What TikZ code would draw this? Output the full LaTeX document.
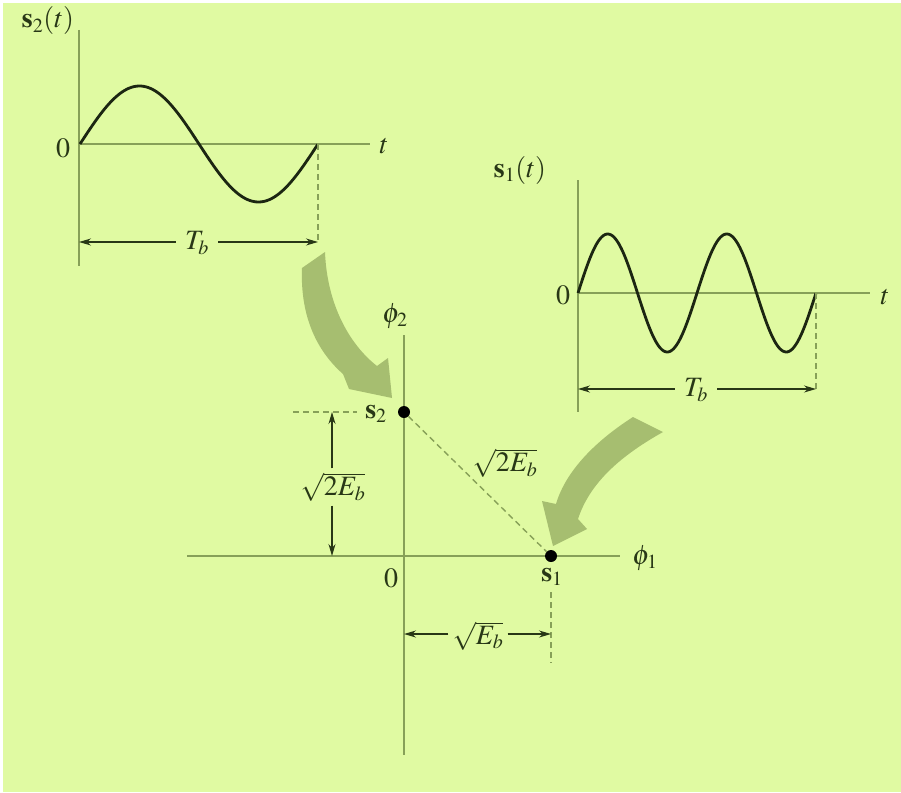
\documentclass[tikz,border=0pt]{standalone}
\usepackage{mathptmx}
\usetikzlibrary{arrows.meta}
\definecolor{bgc}{RGB}{224,250,162}
\definecolor{axc}{RGB}{135,160,88}
\definecolor{txc}{RGB}{40,55,22}
\definecolor{crv}{RGB}{28,38,18}
\definecolor{bigc}{RGB}{166,190,112}
\DeclareMathSizes{28}{28}{20}{15}
\begin{document}
\begin{tikzpicture}[x=1pt,y=-1pt,
  axis/.style={draw=axc,line width=1.6pt},
  dsh/.style={draw=axc,line width=1.4pt,dash pattern=on 6pt off 4pt},
  wave/.style={draw=crv,line width=2.8pt},
  dim/.style={draw=txc,line width=1.2pt,-{Stealth[length=12pt,width=7pt]}},
  lbl/.style={text=txc,inner sep=1pt,font=\fontsize{28}{32}\selectfont},
  bigarrow/.style={fill=bigc,draw=none},
  dot/.style={circle,fill=black,inner sep=0pt,minimum size=12pt}]
\useasboundingbox (0,0) rectangle (901,792);
\fill[white] (0,0) rectangle (901,792);
\fill[bgc] (3,3) rectangle (901,792);

% ---------- top-left waveform s2(t)
\coordinate (a2o) at (79,144);
\coordinate (a2top) at (79,30);
\coordinate (a2bot) at (79,266);
\coordinate (a2right) at (370,144);
\coordinate (a2end) at (318,144);
\coordinate (a2dimL) at (79,242);
\coordinate (a2dimR) at (318,242);
\draw[axis] (a2top) -- (a2bot);
\draw[axis] (a2o) -- (a2right);
\draw[wave] plot[domain=0:1,samples=120] ({80+238*\x},{144-58*sin(360*\x)});
\draw[dsh] (a2end) -- (a2dimR);
\node[lbl] (s2t) at (48,21) {$\mathbf{s}_2(t)$};
\node[lbl] (z2) at (63,148) {$0$};
\node[lbl] (t2) at (384,146) {$t$};
\node[lbl,fill=bgc,inner xsep=9pt] (Tb2) at (197,243) {$T_b$};
\draw[dim] (Tb2.west |- a2dimL) -- (a2dimL);
\draw[dim] (Tb2.east |- a2dimR) -- (a2dimR);

% ---------- right waveform s1(t)
\coordinate (a1o) at (578,293);
\coordinate (a1top) at (578,180);
\coordinate (a1bot) at (578,412);
\coordinate (a1right) at (870,293);
\coordinate (a1end) at (816,293);
\coordinate (a1dimL) at (578,389);
\coordinate (a1dimR) at (816,389);
\draw[axis] (a1top) -- (a1bot);
\draw[axis] (a1o) -- (a1right);
\draw[wave] plot[domain=0:1,samples=160] ({578+238*\x},{293-59*sin(720*\x)});
\draw[dsh] (a1end) -- (a1dimR);
\node[lbl] (s1t) at (520,170) {$\mathbf{s}_1(t)$};
\node[lbl] (z1) at (563,295) {$0$};
\node[lbl] (t1) at (885,297) {$t$};
\node[lbl,fill=bgc,inner xsep=9pt] (Tb1) at (696,390) {$T_b$};
\draw[dim] (Tb1.west |- a1dimL) -- (a1dimL);
\draw[dim] (Tb1.east |- a1dimR) -- (a1dimR);

% ---------- big curved arrows
\path[bigarrow] (302,268) .. controls (300,318) and (318,352) .. (343,374)
  -- (349,389) -- (392,398) -- (388,358) -- (377,366)
  .. controls (350,345) and (327,305) .. (325,252) -- cycle;
\path[bigarrow] (633,417) .. controls (597,440) and (566,470) .. (556,504)
  -- (542,501) -- (553,546) -- (587,529) -- (578,519)
  .. controls (590,482) and (622,455) .. (663,432) -- cycle;

% ---------- signal space
\coordinate (O) at (404,556);
\coordinate (p2top) at (404,335);
\coordinate (p2bot) at (404,755);
\coordinate (p1left) at (187,556);
\coordinate (p1right) at (620,556);
\draw[axis] (p2top) -- (p2bot);
\draw[axis] (p1left) -- (p1right);
\node[dot] (s2) at (404,412) {};
\node[dot] (s1) at (551,556) {};
\draw[dsh] (s2) -- (s1);
\coordinate (hd1) at (293,412);
\coordinate (hd2) at (357,412);
\draw[dsh] (hd1) -- (hd2);
\coordinate (vd1) at (551,592);
\coordinate (vd2) at (551,663);
\draw[dsh] (vd1) -- (vd2);

\node[lbl] (phi2) at (395,316) {$\phi_2$};
\node[lbl] (phi1) at (645,558) {$\phi_1$};
\node[lbl] (s2l) at (376,414) {$\mathbf{s}_2$};
\node[lbl] (s1l) at (552,577) {$\mathbf{s}_1$};
\node[lbl] (zO) at (391,578) {$0$};
\node[lbl] (diag) at (505,463) {$\sqrt{2E_b}$};

\coordinate (vtop) at (332,412);
\coordinate (vbot) at (332,556);
\node[lbl,fill=bgc,inner ysep=4pt] (vlab) at (333,487) {$\sqrt{2E_b}$};
\draw[dim] (vlab.north -| vtop) -- (vtop);
\draw[dim] (vlab.south -| vbot) -- (vbot);

\coordinate (hl) at (404,634);
\coordinate (hr) at (551,634);
\node[lbl,fill=bgc,inner xsep=4pt] (hlab) at (478,636) {$\sqrt{E_b}$};
\draw[dim] (hlab.west |- hl) -- (hl);
\draw[dim] (hlab.east |- hr) -- (hr);
\end{tikzpicture}
\end{document}
